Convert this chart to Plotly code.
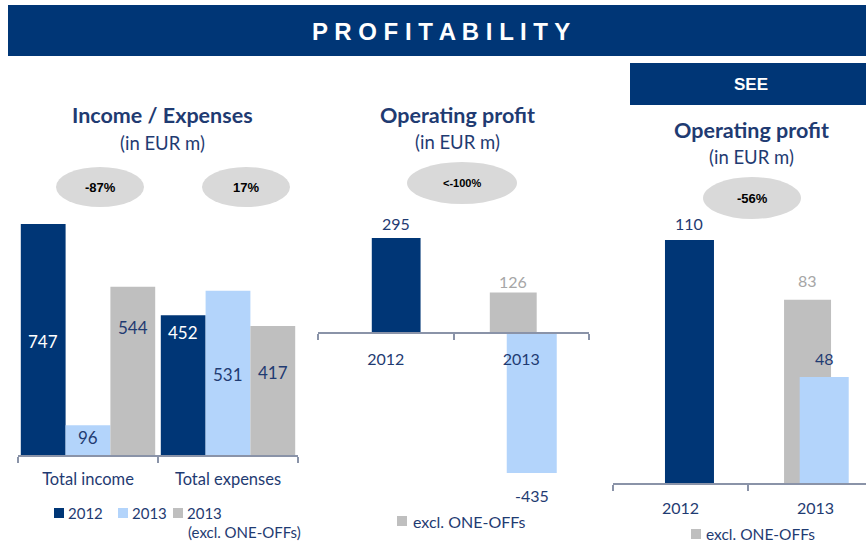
import plotly.graph_objects as go

W, H = 866, 544

# ---------------- data ----------------
income_cats = ["Total income", "Total expenses"]
income_2012 = [747, 452]
income_2013 = [96, 531]
income_2013_excl = [544, 417]
income_changes = ["-87%", "17%"]

op_years = ["2012", "2013"]
op_2012 = [295]
op_2013 = [-435]
op_2013_excl = [126]
op_change = "<-100%"

see_years = ["2012", "2013"]
see_2012 = [110]
see_2013 = [48]
see_2013_excl = [83]
see_change = "-56%"

# label heights (data units) inside the income/expenses bars
lbl_2012 = [366, 395]
lbl_2013 = [58, 259]
lbl_excl = [414, 268]

# ---------------- styles ----------------
NAVY = "#003676"
LIGHT = "#B3D4FB"
GRAY = "#BFBFBF"
ELL = "#D9D9D9"
AXIS = "#8A93A8"
TXT = "#1F3B72"
LGRAY = "#A6A6A6"
FONT = "Lato"


def fx(x):
    return x / W


def fy(y):
    return 1 - y / H


fig = go.Figure()
shapes = []
annots = []


def note(text, x, y, size, color=TXT, family=FONT, xanchor="center", xref="paper", yref="paper",
         yshift=0):
    annots.append(dict(text=text, xref=xref, yref=yref, x=x, y=y, showarrow=False,
                       xanchor=xanchor, yanchor="middle", yshift=yshift,
                       font=dict(family=family, size=size, color=color)))


# Panel 1 : income / expenses
for vals, col in [(income_2012, NAVY), (income_2013, LIGHT), (income_2013_excl, GRAY)]:
    fig.add_trace(go.Bar(x=income_cats, y=vals, marker=dict(color=col, line=dict(width=0)),
                         xaxis="x", yaxis="y", hoverinfo="skip"))


def op_bar(cat, vals, col, offset, width, xa, ya, lblcol, shift):
    fig.add_trace(go.Bar(x=[cat], y=vals, marker=dict(color=col, line=dict(width=0)),
                         offset=offset, width=width, xaxis=xa, yaxis=ya, hoverinfo="skip"))
    idx = 0 if cat == "2012" else 1
    note(str(vals[0]), idx + offset + width / 2, vals[0], 16, lblcol,
         xref=xa, yref=ya, yshift=shift)


# Panel 2 : operating profit
op_bar(op_years[0], op_2012, NAVY, -0.103, 0.36, "x2", "y2", TXT, 15)
op_bar(op_years[1], op_2013_excl, GRAY, -0.232, 0.346, "x2", "y2", LGRAY, 11)
op_bar(op_years[1], op_2013, LIGHT, -0.107, 0.369, "x2", "y2", TXT, -22)

# Panel 3 : SEE operating profit
op_bar(see_years[0], see_2012, NAVY, -0.115, 0.363, "x3", "y3", TXT, 17)
op_bar(see_years[1], see_2013_excl, GRAY, -0.233, 0.348, "x3", "y3", LGRAY, 19)
op_bar(see_years[1], see_2013, LIGHT, -0.117, 0.363, "x3", "y3", TXT, 18)

axis_common = dict(type="category", showline=True, linecolor=AXIS, linewidth=2,
                   ticks="outside", tickson="boundaries", ticklen=6, tickcolor=AXIS,
                   tickwidth=2, showgrid=False, zeroline=False, fixedrange=True,
                   tickfont=dict(family=FONT, size=16, color=TXT))

fig.update_layout(
    width=W, height=H,
    margin=dict(l=0, r=0, t=0, b=0),
    paper_bgcolor="white", plot_bgcolor="white",
    showlegend=False,
    barmode="group", bargap=0.04, bargroupgap=0,
    font=dict(family=FONT, color=TXT),
    xaxis=dict(axis_common, domain=[fx(18), fx(298)], range=[-0.5, 1.5], anchor="y",
               categoryarray=income_cats, ticklabelstandoff=8,
               tickfont=dict(family=FONT, size=16.5, color=TXT)),
    yaxis=dict(domain=[fy(455), fy(200)], range=[0, 825], visible=False, fixedrange=True),
    xaxis2=dict(axis_common, domain=[fx(318), fx(589)], range=[-0.5, 1.5], anchor="free",
                position=fy(333), categoryarray=op_years, ticklabelstandoff=12),
    yaxis2=dict(domain=[fy(490), fy(200)], range=[-487.6, 413], visible=False, fixedrange=True,
                anchor="x2"),
    xaxis3=dict(axis_common, domain=[fx(613), 1.0], range=[-0.5, 1.374], anchor="y3",
                categoryarray=see_years, ticklabelstandoff=10),
    yaxis3=dict(domain=[fy(483), fy(220)], range=[0, 119.06], visible=False, fixedrange=True,
                anchor="x3"),
)

# header band
shapes.append(dict(type="rect", xref="paper", yref="paper", x0=fx(8), x1=1, y0=fy(56), y1=fy(5),
                   fillcolor=NAVY, line=dict(width=0), layer="below"))
note("<b>P R O F I T A B I L I T Y</b>", fx(441), fy(31), 24, "white", "Liberation Sans")

# SEE band
shapes.append(dict(type="rect", xref="paper", yref="paper", x0=fx(630), x1=1, y0=fy(105), y1=fy(63),
                   fillcolor=NAVY, line=dict(width=0), layer="below"))
note("<b>SEE</b>", fx(751), fy(84), 17, "white", "Liberation Sans")

# titles
for cx, ty, sy, t in [(162, 115, 143, "Income / Expenses"),
                      (457, 115, 142, "Operating profit"),
                      (751, 130, 157, "Operating profit")]:
    note("<b>" + t + "</b>", fx(cx), fy(ty), 21.5)
    note("(in EUR m)", fx(cx), fy(sy), 18.5)

# ellipses with changes
for (cx, cy, rw, rh), txt, sz in [((100, 187, 44, 20), income_changes[0], 13),
                                  ((246, 187, 44, 20), income_changes[1], 13),
                                  ((462, 183, 55, 21), op_change, 11),
                                  ((752, 198, 49, 21), see_change, 13)]:
    shapes.append(dict(type="circle", xref="paper", yref="paper",
                       x0=fx(cx - rw), x1=fx(cx + rw), y0=fy(cy + rh), y1=fy(cy - rh),
                       fillcolor=ELL, line=dict(width=0), layer="below"))
    note("<b>" + txt + "</b>", fx(cx), fy(cy), sz, "black", "Liberation Sans")

# income/expenses bar labels
for i in range(len(income_cats)):
    for off, vals, pos, col in [(-0.32, income_2012, lbl_2012, "white"),
                                (0.0, income_2013, lbl_2013, TXT),
                                (0.32, income_2013_excl, lbl_excl, TXT)]:
        note(str(vals[i]), i + off, pos[i], 17, col, xref="x", yref="y")


# legends
def square(x, y, col):
    shapes.append(dict(type="rect", xref="paper", yref="paper", x0=fx(x), x1=fx(x + 10),
                       y0=fy(y + 5), y1=fy(y - 5), fillcolor=col, line=dict(width=0)))


square(54, 513, NAVY)
note("2012", fx(66), fy(513), 15, xanchor="left")
square(118, 513, LIGHT)
note("2013", fx(130), fy(513), 15, xanchor="left")
square(173, 513, GRAY)
note("2013", fx(185), fy(513), 15, xanchor="left")
note("(excl. ONE-OFFs)", fx(186), fy(532), 15, xanchor="left")

square(397, 521, GRAY)
note("excl. ONE-OFFs", fx(411), fy(521), 16, xanchor="left")
square(691, 534, GRAY)
note("excl. ONE-OFFs", fx(704), fy(534), 15.5, xanchor="left")

fig.update_layout(shapes=shapes, annotations=annots)
fig.write_html("out.html", config={"displayModeBar": False},
               post_script="document.body.style.margin='0';document.body.style.overflow='hidden';")
